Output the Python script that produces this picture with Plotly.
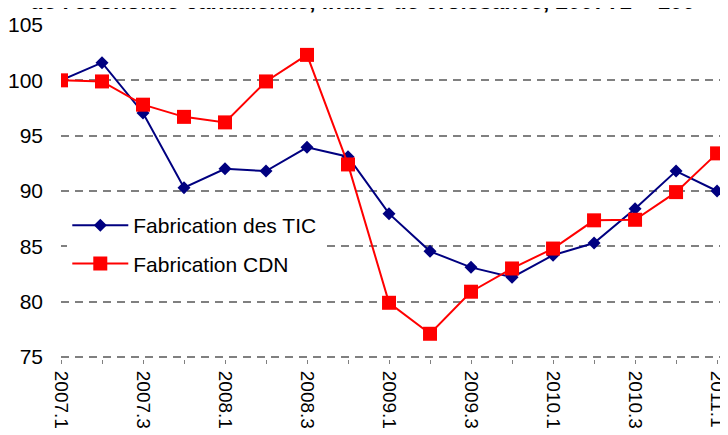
import plotly.graph_objects as go

quarters = ["2007.1", "2007.2", "2007.3", "2007.4", "2008.1", "2008.2", "2008.3", "2008.4",
            "2009.1", "2009.2", "2009.3", "2009.4", "2010.1", "2010.2", "2010.3", "2010.4", "2011.1"]
tic = [100.0, 101.6, 97.05, 90.3, 92.0, 91.8, 93.95, 93.1, 87.95, 84.55, 83.1, 82.2, 84.2, 85.3, 88.4, 91.8, 90.0]
cdn = [100.0, 99.9, 97.8, 96.7, 96.2, 99.9, 102.3, 92.4, 79.9, 77.1, 80.9, 83.0, 84.8, 87.35, 87.4, 89.9, 93.4]
tick_labels = [q if i % 2 == 0 else "" for i, q in enumerate(quarters)]
title_text = "de l'économie canadienne, indice de croissance, 2007T1 = 100"

FONT = "Liberation Sans, Arial, sans-serif"

fig = go.Figure()
fig.add_trace(go.Scatter(
    x=quarters, y=tic, name="Fabrication des TIC", mode="lines+markers",
    line=dict(color="#000080", width=2),
    marker=dict(symbol="diamond", size=10, color="#000080"),
    legendgroup="a",
))
fig.add_trace(go.Scatter(
    x=quarters, y=cdn, name="Fabrication CDN", mode="lines+markers",
    line=dict(color="#FF0000", width=2),
    marker=dict(symbol="square", size=14, color="#FF0000"),
    legendgroup="b",
))

fig.add_annotation(
    text="<b>" + title_text + "</b>", xref="paper", yref="paper",
    x=(364 - 60) / 668, y=1 + 9 / 332, xanchor="center", yanchor="bottom",
    showarrow=False, font=dict(family=FONT, size=22.5, color="black"),
)

fig.update_layout(
    width=720, height=429,
    margin=dict(l=52, r=0, t=17, b=78, pad=0),
    paper_bgcolor="white", plot_bgcolor="white",
    font=dict(family=FONT, size=20, color="black"),
    showlegend=True,
    legend=dict(
        x=0.0095, y=(359 - 205) / 334, xanchor="left", yanchor="top",
        bgcolor="white", borderwidth=0, font=dict(family=FONT, size=21, color="black"),
        traceorder="grouped", tracegroupgap=8, itemwidth=56,
    ),
    xaxis=dict(
        type="category", range=[0, 16.145],
        tickmode="array", tickvals=quarters, ticktext=tick_labels,
        tickangle=90, ticks="outside", ticklen=4, tickcolor="#808080", tickwidth=1,
        ticklabelstandoff=3,
        showgrid=False, showline=False, zeroline=False,
        tickfont=dict(family=FONT, size=19, color="black"),
    ),
    yaxis=dict(
        range=[74.82, 105], tickmode="array", tickvals=[75, 80, 85, 90, 95, 100, 105],
        showgrid=True, gridcolor="#808080", gridwidth=1.5, griddash="8px,6px",
        showline=False, zeroline=False, ticks="", ticklabelstandoff=17,
        tickfont=dict(family=FONT, size=21, color="black"),
    ),
)

fig.write_html("out.html")
